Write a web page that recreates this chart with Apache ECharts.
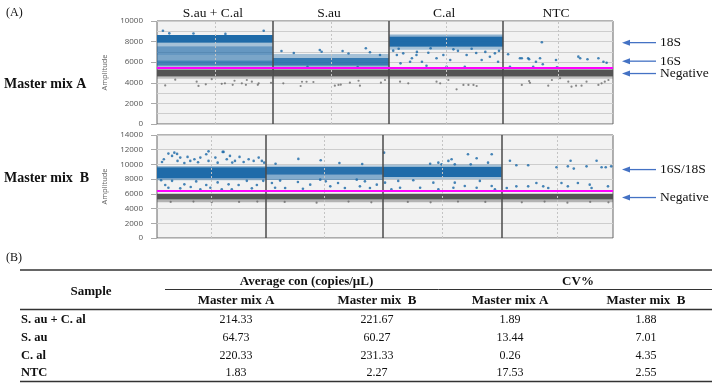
<!DOCTYPE html>
<html lang="en">
<head>
<meta charset="UTF-8">
<script src="https://cdn.jsdelivr.net/npm/echarts@6.0.0/dist/echarts.min.js"></script>
<title>ddPCR</title>
<style>
    html, body { margin: 0; padding: 0; background: #fff; }
    #main { width: 714px; height: 386px; }
</style>
</head>
<body>
<div id="main"></div>
<script>
// wells (x axis = position in the run, %)
var wellNames = ['S.au + C.al', 'S.au', 'C.al', 'NTC'];
var wellEdgesA = [0, 25.4, 50.9, 75.9, 100];
var wellEdgesB = [0, 23.9, 49.5, 75.6, 100];
var thresholdA = 5450;
var thresholdB = 6400;

// dense droplet bands: [well, low, high, coverage]
var posBandsA = [
    [0, 7900, 8650, 0.97], [0, 7550, 7900, 0.35], [0, 6700, 7550, 0.65],
    [0, 6200, 6700, 0.55], [0, 5650, 6200, 0.8], [0, 5500, 5650, 0.35],
    [1, 6400, 6800, 0.35], [1, 5650, 6400, 0.85], [1, 5500, 5650, 0.4],
    [2, 8500, 8700, 0.45], [2, 7500, 8500, 0.97], [2, 7200, 7500, 0.35]
];
var negBandsA = [
    [0, 4600, 5300, 1], [0, 4400, 4600, 0.3], [1, 4600, 5300, 1], [1, 4400, 4600, 0.3],
    [2, 4600, 5300, 1], [2, 4400, 4600, 0.3], [3, 4600, 5300, 1], [3, 4400, 4600, 0.3]
];
var posBandsB = [
    [0, 8100, 9600, 0.97], [0, 9600, 9800, 0.4], [0, 7850, 8100, 0.4],
    [1, 8600, 9700, 0.92], [1, 7900, 8600, 0.5], [1, 9700, 9900, 0.25],
    [2, 8300, 9700, 0.97], [2, 9700, 10000, 0.35], [2, 8000, 8300, 0.35]
];
var negBandsB = [
    [0, 5250, 6000, 1], [0, 4850, 5250, 0.4], [1, 5250, 6000, 1], [1, 4850, 5250, 0.4],
    [2, 5250, 6000, 1], [2, 4850, 5250, 0.4], [3, 5250, 6000, 1], [3, 4850, 5250, 0.4]
];

// single droplets outside the bands: [x, amplitude]
var posDropsA = [
    [1.3, 9060], [23.4, 9060], [2.7, 8800], [8, 8780], [15, 8750],
    [27.3, 7090], [35.7, 7180], [36.1, 7020], [40.7, 7090], [45.8, 7350], [46.7, 6960], [48.9, 6700],
    [30, 6900], [42, 6850], [33, 5550], [44, 5520],
    [51.8, 7120], [52.6, 6700], [53.4, 5890], [54, 6860], [55.9, 6380], [55.5, 6050], [56.9, 6700],
    [58.1, 6050], [59.5, 6920], [61.3, 6380], [62.8, 6700], [64.3, 6210], [67.9, 6700], [71.2, 6210],
    [73, 6530], [74.1, 6860], [74.8, 6050], [63.5, 5560], [67.5, 5560], [59.1, 5660], [57, 7000],
    [66, 7100], [70, 6900], [72, 7000], [75, 7100], [53, 7300], [60, 7350], [65, 7250], [69, 7300],
    [84.4, 7930], [77, 6770], [79.6, 6380], [80, 6380], [81.4, 6380], [81.6, 6280], [83.1, 6050],
    [84, 6380], [84.6, 5800], [87.5, 6210], [92.4, 6540], [92.8, 6380], [94.4, 6280], [96.8, 6380],
    [97.9, 6050], [98.6, 5950], [77.4, 5560], [82.5, 5560], [87.7, 5500]
];
var negDropsA = [
    [1.8, 3750], [9.1, 3700], [10.7, 3850], [14.2, 3900], [14.9, 3950], [16.6, 3800], [18.6, 3950],
    [19.5, 3800], [22.1, 3800], [22.3, 3950], [25.0, 4000], [8.7, 4110], [12, 4350], [4, 4300],
    [19.7, 4270], [20.8, 4110], [17, 4200],
    [27.7, 3950], [31.5, 3690], [31.8, 4100], [32.8, 4100], [34.3, 4080], [39.0, 3720], [39.8, 3790],
    [40.3, 3820], [42.3, 4010], [44.2, 4200], [44.5, 3720], [49.1, 4010], [50, 4270],
    [53.3, 4110], [55.1, 3950], [62.1, 3950], [65.7, 3370], [67.2, 3790], [68.3, 3790], [69.4, 3790],
    [70.1, 3690], [63.9, 4270], [61.3, 4110],
    [80, 3790], [81.6, 4170], [81.8, 4000], [85.8, 3720], [86.6, 4270], [90.2, 4110], [90.9, 3620],
    [91.9, 3720], [93.1, 3720], [94.2, 4110], [96.8, 3790], [97.5, 3950], [98.2, 4110], [99, 4270],
    [88.4, 4440]
];
var posDropsB = [
    [1.1, 10340], [1.5, 10700], [2.5, 11470], [3.3, 11160], [3.8, 11600], [4.5, 10480], [5.1, 10930],
    [6.7, 11020], [7.3, 10480], [8.2, 10700], [9.5, 10930], [10.8, 11380], [11.3, 10480], [12.8, 10930],
    [13.3, 10240], [14.6, 11700], [15.3, 10700], [16, 11160], [17.1, 10480], [18.1, 11020], [19, 10340],
    [20.1, 10700], [21.2, 10480], [22.3, 10930], [23, 10480], [23.5, 10240], [4.4, 11430], [11.3, 11780],
    [14.4, 11700], [6, 10200], [9, 10300], [16.5, 10250],
    [0.9, 7840], [1.8, 7200], [2.5, 6840], [3.3, 7770], [5.1, 6750], [6, 7290], [7.4, 6930], [8.6, 7690],
    [9.5, 6610], [10.8, 7200], [11.7, 6840], [13.3, 7560], [14.2, 6610], [15.7, 7290], [16.4, 6610],
    [17.9, 7200], [19.7, 7770], [20.8, 6750], [21.9, 7200], [23.3, 7770],
    [31, 10750], [35.9, 10560], [26, 10100], [40, 10200], [45, 10050], [25.2, 7480], [25.9, 6840],
    [28.1, 6800], [30.9, 7620], [33.6, 7250], [35.8, 7930], [38, 7020], [39.7, 7480], [41.2, 6800],
    [44.5, 7020], [45.6, 7700], [46.7, 6800], [48.2, 7250], [43.8, 7930], [27, 7800], [32, 6700], [37, 7700],
    [49.8, 11600], [61.7, 10240], [63.9, 10480], [64.6, 10700], [68.2, 11380], [70.1, 10830], [73.4, 11380],
    [72.6, 10240], [68.8, 10010], [65.3, 10010], [62.4, 10010], [59.9, 10100], [52.9, 7760], [56.2, 7840],
    [57.7, 6840], [60.6, 7520], [61.7, 6610], [65, 6840], [65.3, 7520], [67.5, 7070], [70.1, 6840],
    [70.8, 7760], [73.4, 7070], [74.1, 6610], [53.3, 6840], [50, 7520], [51.4, 6610],
    [77.4, 10510], [78.8, 9880], [81.4, 9880], [87.6, 9610], [90.1, 9740], [90.7, 10510], [91.4, 9430],
    [94.2, 9740], [96.4, 10510], [97.5, 9610], [98.4, 9610], [99.6, 9740], [76.7, 6800], [78.8, 7020],
    [81.4, 7020], [83.2, 7480], [84.7, 7020], [85.8, 6800], [88.7, 7480], [90.1, 7020], [92.3, 7480],
    [94.9, 7250], [95.3, 6800], [98.9, 7020]
];
var negDropsB = [
    [3, 4900], [8, 4950], [12, 4850], [18, 4900], [22, 4950], [28, 4900], [35, 4800], [42, 4950],
    [47, 4850], [55, 4900], [60, 4850], [66, 4950], [72, 4900], [80, 4850], [85, 4950], [90, 4800],
    [95, 4900], [99, 4850]
];

// band annotations: [label, amplitude]
var notesA = [['18S', 7900], ['16S', 6100], ['Negative', 4900]];
var notesB = [['16S/18S', 9300], ['Negative', 5500]];

// table
var samples = ['S. au + C. al', 'S. au', 'C. al', 'NTC'];
var avgConA = [214.33, 64.73, 220.33, 1.83];
var avgConB = [221.67, 60.27, 231.33, 2.27];
var cvA = [1.89, 13.44, 0.26, 17.53];
var cvB = [1.88, 7.01, 4.35, 2.55];

var BLUE = '#1866a6';
var GRAY = '#545454';
var SERIF = '"Liberation Serif", "Times New Roman", serif';
var SANS = '"Open Sans", sans-serif';

function bandData(bands, edges) {
    return bands.map(function (b) {
        return [edges[b[0]], edges[b[0] + 1], b[1], b[2], b[3]];
    });
}
function mids(edges) {
    var out = [];
    for (var i = 0; i < edges.length - 1; i++) out.push((edges[i] + edges[i + 1]) / 2);
    return out;
}
function renderBand(params, api) {
    var p0 = api.coord([api.value(0), api.value(3)]);
    var p1 = api.coord([api.value(1), api.value(2)]);
    return {
        type: 'rect',
        shape: { x: p0[0], y: p0[1], width: p1[0] - p0[0], height: p1[1] - p0[1] },
        style: { fill: api.visual('color'), opacity: api.value(4) }
    };
}
function xAxisCfg(idx) {
    return {
        gridIndex: idx, type: 'value', min: 0, max: 100,
        axisLine: { show: false }, axisTick: { show: false },
        axisLabel: { show: false }, splitLine: { show: false }
    };
}
function yAxisCfg(idx, max, minor) {
    return {
        gridIndex: idx, type: 'value', min: 0, max: max, interval: 2000,
        name: 'Amplitude', nameLocation: 'middle', nameGap: 43,
        nameTextStyle: { fontFamily: SANS, fontSize: 7.5, color: '#666' },
        axisLine: { show: false },
        axisTick: { show: true, length: 6, lineStyle: { color: '#aaa' } },
        axisLabel: {
            fontFamily: SANS, fontSize: 8, color: '#555', margin: 14,
            formatter: function (v) { return String(v); }
        },
        splitLine: { show: true, lineStyle: { color: '#cdcdcd', width: 1 } },
        minorTick: { show: false, splitNumber: 2 },
        minorSplitLine: { show: minor, lineStyle: { color: '#cdcdcd', width: 1 } }
    };
}
function panelSeries(idx, posBands, negBands, posDrops, negDrops, edges, thr) {
    return [
        {
            type: 'custom', xAxisIndex: idx, yAxisIndex: idx, renderItem: renderBand,
            itemStyle: { color: GRAY }, encode: { x: [0, 1], y: [2, 3] },
            data: bandData(negBands, edges), silent: true, clip: true
        },
        {
            type: 'custom', xAxisIndex: idx, yAxisIndex: idx, renderItem: renderBand,
            itemStyle: { color: BLUE }, encode: { x: [0, 1], y: [2, 3] },
            data: bandData(posBands, edges), silent: true, clip: true
        },
        {
            type: 'scatter', xAxisIndex: idx, yAxisIndex: idx, data: negDrops,
            symbolSize: 2.2, itemStyle: { color: '#6a6a6a' }, silent: true
        },
        {
            type: 'scatter', xAxisIndex: idx, yAxisIndex: idx, data: posDrops,
            symbolSize: 2.6, itemStyle: { color: BLUE }, silent: true,
            markLine: {
                silent: true, symbol: ['none', 'none'], label: { show: false },
                data: mids(edges).map(function (m) {
                    return { xAxis: m, lineStyle: { color: '#c4c4c4', type: [2, 2], width: 1 } };
                }).concat(edges.slice(1, edges.length - 1).map(function (e) {
                    return { xAxis: e, lineStyle: { color: '#4a4a4a', type: 'solid', width: 1.5 } };
                })).concat([{ yAxis: thr, lineStyle: { color: '#ff00ff', type: 'solid', width: 2 } }])
            }
        }
    ];
}

var myChart = echarts.init(document.getElementById('main'), null, { renderer: 'canvas' });

var option = {
    animation: false,
    backgroundColor: '#ffffff',
    grid: [
        { left: 157, top: 21, width: 456, height: 103, show: true, backgroundColor: '#f2f2f2', borderColor: '#666', borderWidth: 1 },
        { left: 157, top: 135, width: 456, height: 103, show: true, backgroundColor: '#f2f2f2', borderColor: '#666', borderWidth: 1 }
    ],
    xAxis: [xAxisCfg(0), xAxisCfg(1)],
    yAxis: [yAxisCfg(0, 10000, true), yAxisCfg(1, 14000, false)],
    series: panelSeries(0, posBandsA, negBandsA, posDropsA, negDropsA, wellEdgesA, thresholdA)
        .concat(panelSeries(1, posBandsB, negBandsB, posDropsB, negDropsB, wellEdgesB, thresholdB))
};
myChart.setOption(option);

// labels, arrows and the table
var g = [];
function txt(x, y, s, size, bold, align) {
    g.push({
        type: 'text', x: x, y: y, silent: true,
        style: {
            text: s, fill: '#111', textAlign: align || 'left', textVerticalAlign: 'middle',
            font: (bold ? 'bold ' : '') + size + 'px ' + SERIF
        }
    });
}
function hline(x1, x2, y, w) {
    g.push({ type: 'line', silent: true, shape: { x1: x1, y1: y, x2: x2, y2: y }, style: { stroke: '#333', lineWidth: w } });
}
function arrow(y) {
    g.push({ type: 'line', silent: true, shape: { x1: 656, y1: y, x2: 628, y2: y }, style: { stroke: '#4472c4', lineWidth: 1.3 } });
    g.push({ type: 'polygon', silent: true, shape: { points: [[622, y], [630, y - 3], [630, y + 3]] }, style: { fill: '#4472c4' } });
}

txt(6, 13, '(A)', 12, false);
txt(4, 84, 'Master mix A', 14, true);
txt(4, 178, 'Master mix  B', 14, true);
mids(wellEdgesA).forEach(function (m, i) {
    var px = myChart.convertToPixel({ xAxisIndex: 0 }, m);
    txt(px - 2, 13, wellNames[i], 13.5, false, 'center');
});
notesA.forEach(function (n) {
    var py = myChart.convertToPixel({ yAxisIndex: 0 }, n[1]);
    arrow(py);
    txt(660, py, n[0], 13.5, false);
});
notesB.forEach(function (n) {
    var py = myChart.convertToPixel({ yAxisIndex: 1 }, n[1]);
    arrow(py);
    txt(660, py, n[0], 13.5, false);
});

// table (B)
var colX = [236, 377, 510, 646];
txt(6, 258, '(B)', 12, false);
hline(20, 712, 270, 1.5);
txt(91, 292, 'Sample', 13, true, 'center');
txt((colX[0] + colX[1]) / 2, 282, 'Average con (copies/\u03bcL)', 13, true, 'center');
txt((colX[2] + colX[3]) / 2, 282, 'CV%', 13, true, 'center');
hline(165, 712, 289.5, 1);
['Master mix A', 'Master mix  B', 'Master mix A', 'Master mix  B'].forEach(function (h, i) {
    txt(colX[i], 301, h, 13, true, 'center');
});
hline(20, 712, 309.5, 1.5);
var rowY = [320, 338, 355.5, 373];
samples.forEach(function (s, r) {
    txt(21, rowY[r], s, 12.5, true);
    [avgConA, avgConB, cvA, cvB].forEach(function (col, c) {
        txt(colX[c], rowY[r], col[r].toFixed(2), 12, false, 'center');
    });
});
hline(20, 712, 381.5, 1.5);

myChart.setOption({ graphic: g });
</script>
</body>
</html>
